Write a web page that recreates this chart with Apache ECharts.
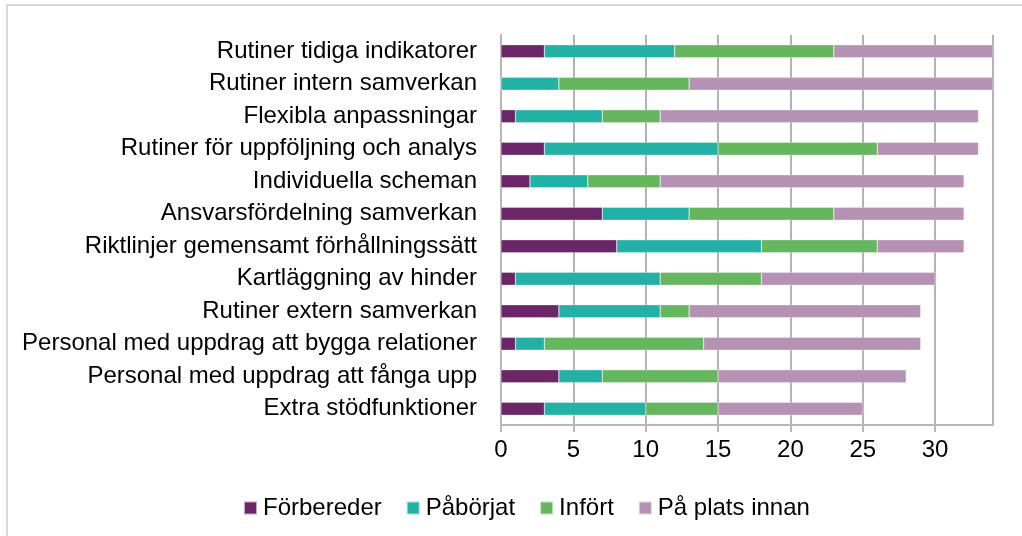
<!DOCTYPE html>
<html><head><meta charset="utf-8">
<script src="https://cdn.jsdelivr.net/npm/echarts@6/dist/echarts.min.js"></script>
<style>html,body{margin:0;padding:0;background:#fff}#c{width:1022px;height:536px}</style>
</head><body><div id="c"></div>
<script>
const categories = ["Rutiner tidiga indikatorer","Rutiner intern samverkan","Flexibla anpassningar","Rutiner för uppföljning och analys","Individuella scheman","Ansvarsfördelning samverkan","Riktlinjer gemensamt förhållningssätt","Kartläggning av hinder","Rutiner extern samverkan","Personal med uppdrag att bygga relationer","Personal med uppdrag att fånga upp","Extra stödfunktioner"];
const seriesNames = ["Förbereder","Påbörjat","Infört","På plats innan"];
const forbereder = [3,0,1,3,2,7,8,1,4,1,4,3];
const paborjat   = [9,4,6,12,4,6,10,10,7,2,3,7];
const infort     = [11,9,4,11,5,10,8,7,2,11,8,5];
const paPlats    = [11,21,22,7,21,9,6,12,16,15,13,10];
const colors = ["#6B2667","#23B1A6","#66B55F","#B592B4"];
const values = [forbereder, paborjat, infort, paPlats];
const font = "'Liberation Sans', Arial, sans-serif";
const chart = echarts.init(document.getElementById('c'), null, {renderer:'canvas'});
chart.setOption({
  animation:false,
  textStyle:{fontFamily:font},
  graphic:[{type:'rect',shape:{x:7,y:5,width:1030,height:560},style:{fill:'none',stroke:'#D9D9D9',lineWidth:2},silent:true}],
  grid:{left:501,right:29,top:35,bottom:111},
  xAxis:{type:'value',min:0,max:34,interval:5,
    axisLine:{show:true,lineStyle:{color:'#B7B7B7',width:2}},
    axisTick:{show:true,length:7,lineStyle:{color:'#B7B7B7',width:2}},
    splitLine:{show:true,lineStyle:{color:'#B3B3B3',width:2}},
    axisLabel:{color:'#000',fontSize:24,margin:13,fontFamily:font,showMaxLabel:false}},
  yAxis:{type:'category',data:categories,inverse:true,
    axisLine:{show:true,lineStyle:{color:'#B7B7B7',width:2}},
    axisTick:{show:false},
    axisLabel:{color:'#000',fontSize:24,margin:24,fontFamily:font}},
  legend:{top:491,left:238,itemWidth:13,itemHeight:13,itemGap:24,icon:'rect',
    textStyle:{fontSize:24,color:'#000',fontFamily:font,padding:[0,0,0,1]},data:seriesNames},
  series: seriesNames.map((n,i)=>({name:n,type:'bar',stack:'s',data:values[i],barWidth:13,
    itemStyle:{color:colors[i],borderColor:'rgba(255,255,255,0.6)',borderWidth:0.5}}))
});
</script></body></html>
